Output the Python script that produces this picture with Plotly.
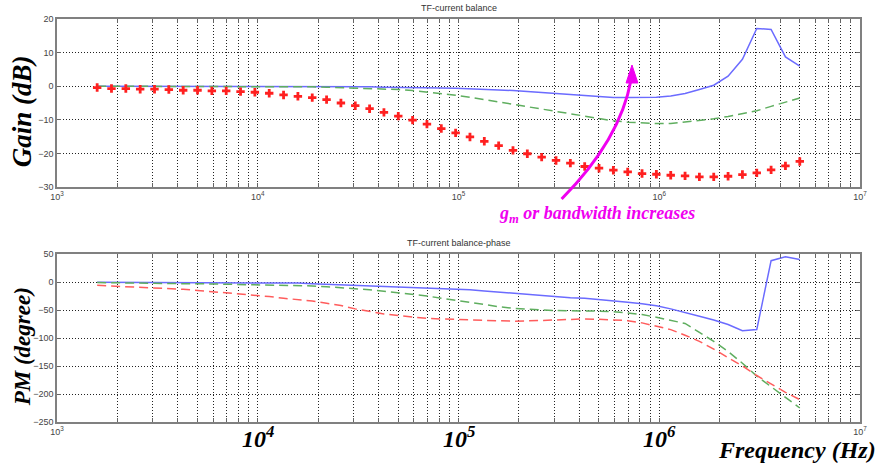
import plotly.graph_objects as go

# ---------------- data ----------------
freq = [1585, 1868, 2202, 2596, 3060, 3607, 4252,
        5012, 5908, 6964, 8209, 9676, 11406, 13445,
        15849, 18682, 22022, 25960, 30600, 36070, 42518,
        50119, 59078, 69640, 82089, 96764, 114060, 134450,
        158490, 186820, 220220, 259600, 306000, 360700, 425180,
        501190, 590780, 696400, 820890, 967640, 1140600, 1344500,
        1584900, 1868200, 2202200, 2596000, 3060000, 3607000, 4251800,
        5011900]

gain_blue = [0, 0, 0, 0, 0, 0, 0, 0, 0, 0, 0, 0, -0.05, -0.05, -0.1, -0.1, -0.1, -0.15, -0.2, -0.2,
             -0.3, -0.3, -0.4, -0.4, -0.5, -0.6, -0.7, -0.9, -1.1, -1.3, -1.6, -1.9, -2.2, -2.6,
             -3.0, -3.2, -3.4, -3.4, -3.4, -3.3, -2.9, -2.2, -1.0, 0.3, 3.0, 8.0, 17.2, 16.9, 8.7, 6.0]
gain_green = [0, 0, 0, 0, 0, 0, 0, 0, 0, 0, 0, -0.05, -0.05, -0.05, -0.1, -0.2, -0.3, -0.4, -0.5, -0.6,
              -0.8, -1.0, -1.3, -1.7, -2.2, -2.7, -3.3, -4.0, -4.8, -5.5, -6.2, -6.9, -7.6, -8.4,
              -9.1, -9.7, -10.3, -10.7, -11.0, -11.1, -11.1, -10.7, -10.3, -9.7, -9.0, -8.2, -7.3, -6.0, -4.8, -3.5]
gain_red = [-0.4, -0.7, -0.7, -0.9, -0.9, -1.0, -1.2, -1.2, -1.4, -1.4, -1.6, -1.8, -2.1, -2.6,
            -3.0, -3.4, -4.0, -5.0, -5.8, -6.7, -7.8, -8.9, -10.1, -11.3, -12.6, -13.9, -15.1, -16.4,
            -17.7, -19.1, -20.1, -21.1, -22.1, -22.9, -23.9,
            -24.4, -25.0, -25.5, -26.0, -26.2, -26.5, -26.7, -27.0, -27.0, -26.8, -26.3, -25.8, -24.9, -23.7, -22.4]

phase_blue = [-0.3, -0.4, -0.5, -0.6, -0.7, -0.8, -0.9, -1.0, -1.1, -1.2, -1.3, -1.5, -1.7, -1.9,
              -2, -3, -4, -5, -6, -7, -8, -9, -10, -11, -11.5, -12.5, -14, -16, -18, -20, -22, -24.5,
              -26.5, -28, -29, -31, -33.5, -36, -39, -42.5, -48, -54, -61, -68, -76, -87, -85, 38, 45, 40]
phase_green = [-1, -1.5, -1.5, -2, -2, -2.5, -3, -3, -3.5, -4, -4, -4.5, -5, -5.5, -6, -7, -8.5, -10,
               -12, -14, -16.5, -19, -22, -25, -29, -33, -37, -41, -44, -47, -49, -50, -51, -51, -51,
               -52, -53, -55, -58, -63, -68, -74, -90, -106, -124, -145, -168, -187, -207, -225]
phase_red = [-6, -7, -8, -9, -10, -11.5, -13, -15, -17, -19, -21, -23, -26, -29, -31, -34, -38, -42,
             -48, -53, -57, -60, -63, -65, -66, -67, -68, -69, -70, -70, -69.5, -68.5, -67, -66, -66,
             -66.5, -67.5, -69, -73, -79, -85, -95, -106, -120, -135, -150, -167, -182, -197, -210]

gain_ticks = [20, 10, 0, -10, -20, -30]
phase_ticks = [50, 0, -50, -100, -150, -200, -250]
decades = [1e3, 1e4, 1e5, 1e6, 1e7]
decade_labels = ["10<sup>3</sup>", "10<sup>4</sup>", "10<sup>5</sup>", "10<sup>6</sup>", "10<sup>7</sup>"]

# ---------------- styles ----------------
BLUE = "#6b6bff"
GREEN = "#5fae5f"
RED = "#ff5c5c"
MAG = "#f000f0"
SERIF = "Liberation Serif, Times New Roman, serif"
SANS = "Liberation Sans, Arial, sans-serif"

grid_vals = []
for d in decades[:-1]:
    for m in range(1, 10):
        grid_vals.append(d * m)
grid_vals.append(1e7)


def tick_text(show):
    out = []
    for v in grid_vals:
        if v in decades and decades.index(v) in show:
            out.append(decade_labels[decades.index(v)])
        else:
            out.append("")
    return out


fig = go.Figure()
fig.add_trace(go.Scatter(x=freq, y=gain_blue, mode="lines", line=dict(color=BLUE, width=1.5),
                         xaxis="x", yaxis="y"))
fig.add_trace(go.Scatter(x=freq, y=gain_green, mode="lines",
                         line=dict(color=GREEN, width=1.5, dash="9px,5px"), xaxis="x", yaxis="y"))
fig.add_trace(go.Scatter(x=freq, y=gain_red, mode="markers",
                         marker=dict(color="#ff2020", symbol="cross", size=7,
                                     line=dict(width=0)), xaxis="x", yaxis="y"))
fig.add_trace(go.Scatter(x=freq, y=phase_blue, mode="lines", line=dict(color=BLUE, width=1.5),
                         xaxis="x2", yaxis="y2"))
fig.add_trace(go.Scatter(x=freq, y=phase_green, mode="lines",
                         line=dict(color=GREEN, width=1.5, dash="9px,5px"), xaxis="x2", yaxis="y2"))
fig.add_trace(go.Scatter(x=freq, y=phase_red, mode="lines",
                         line=dict(color=RED, width=1.5, dash="9px,5px"), xaxis="x2", yaxis="y2"))

GRID = dict(showgrid=True, gridcolor="#222", griddash="1px,2px", gridwidth=1)
common_x = dict(type="log", range=[3, 7], tickmode="array", tickvals=grid_vals, **GRID,
                showline=True, linecolor="#808080", linewidth=1.5, mirror="allticks",
                ticks="inside", ticklen=4, tickcolor="#666",
                tickfont=dict(family=SANS, size=9, color="#444"), zeroline=False)
common_y = dict(**GRID,
                showline=True, linecolor="#808080", linewidth=1.5, mirror="allticks",
                ticks="inside", ticklen=4, tickcolor="#666", zeroline=False,
                tickfont=dict(family=SANS, size=9, color="#444"))

W, H = 878, 466
L, R, T, B = 57, 11, 19, 44
PW, PH = W - L - R, H - T - B


def px(x, y):
    return (x - L) / PW, (H - B - y) / PH


top_lo = px(0, 187)[1]
bot_hi = px(0, 254)[1]

fig.update_layout(
    width=W, height=H, margin=dict(l=L, r=R, t=T, b=B),
    paper_bgcolor="white", plot_bgcolor="white", showlegend=False,
    xaxis=dict(common_x, domain=[0, 1], anchor="y", ticktext=tick_text([0, 1, 2, 3, 4])),
    yaxis=dict(common_y, domain=[top_lo, 1], range=[-30, 20], tickvals=gain_ticks, anchor="x"),
    xaxis2=dict(common_x, domain=[0, 1], anchor="y2", ticktext=tick_text([0, 4])),
    yaxis2=dict(common_y, domain=[0, bot_hi], range=[-250, 50], tickvals=phase_ticks, anchor="x2"),
)


def note(text, x, y, size, family=SANS, color="black", angle=0, xanchor="center", xref="paper"):
    return dict(text=text, x=x, y=y, xref=xref, yref="paper", showarrow=False, textangle=angle,
                xanchor=xanchor, yanchor="middle", font=dict(family=family, size=size, color=color))


ann = []
tx, ty = px(462, 8)
ann.append(note("TF-current balance", tx, ty, 9, color="#333"))
tx, ty = px(462, 243)
ann.append(note("TF-current balance-phase", tx, ty, 9, color="#333"))
tx, ty = px(22, 111)
ann.append(note("<b><i>Gain (dB)</i></b>", tx, ty, 27, family=SERIF, angle=-90))
tx, ty = px(22, 347)
ann.append(note("<b><i>PM (degree)</i></b>", tx, ty, 23, family=SERIF, angle=-90))
for i in (1, 2, 3):
    _, ty = px(0, 437)
    ann.append(note("<b><i>" + decade_labels[i] + "</i></b>", i + 3, ty, 24, family=SERIF, xref="x2"))
tx, ty = px(885, 450)
ann.append(note("<b><i>Frequency (Hz)</i></b>", tx, ty, 24, family=SERIF, xanchor="right"))
tx, ty = px(602, 214)
ann.append(note("<b><i>g<sub>m</sub> or bandwidth increases</i></b>", tx, ty, 18, family=SERIF, color=MAG))
fig.update_layout(annotations=ann)

# curved arrow
p0, p1, p2 = px(566, 199), px(625, 140), px(636, 80)
path = f"M {p0[0]},{p0[1]} Q {p1[0]},{p1[1]} {p2[0]},{p2[1]}"
a, b, c = px(637, 65), px(631, 83), px(643, 83)
head = f"M {a[0]},{a[1]} L {b[0]},{b[1]} L {c[0]},{c[1]} Z"
fig.update_layout(shapes=[
    dict(type="path", path=path, xref="paper", yref="paper", line=dict(color=MAG, width=3)),
    dict(type="path", path=head, xref="paper", yref="paper", fillcolor=MAG, line=dict(color=MAG, width=1)),
])

fig.write_html("out.html")
